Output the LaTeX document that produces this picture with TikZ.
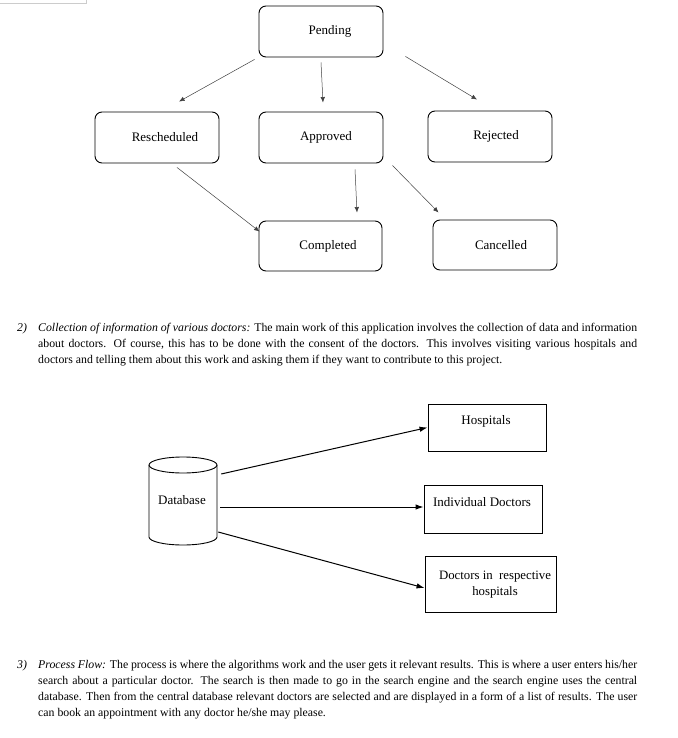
\documentclass[tikz,border=0pt]{standalone}
\usepackage{fontspec}
\setmainfont{Liberation Serif}
\usetikzlibrary{arrows.meta,calc}
\begin{document}
\begin{tikzpicture}[x=1pt,y=-1pt,
  stbox/.style={draw=black, line width=0.9pt, rounded corners=7pt, inner sep=0pt},
  sqbox/.style={draw=black, line width=0.9pt, inner sep=0pt},
  lbl/.style={inner sep=0pt, font=\fontsize{13}{15}\selectfont},
  flow/.style={draw=black!75, line width=0.5pt, -{Latex[length=5.5pt,width=4.5pt]}},
  dbarrow/.style={draw=black, line width=1pt, -{Latex[length=8pt,width=5.5pt]}},
  para/.style={anchor=base west, inner sep=0pt, font=\fontsize{11.8}{16}\selectfont}]
\useasboundingbox (0,0) rectangle (677,738);
\draw[gray!40, line width=0.6pt] (0,3) -- (86,3) -- (86,0);

% ---------- state diagram ----------
\node[stbox, minimum width=124pt, minimum height=51pt] (pend)  at (321,31.5) {};
\node[stbox, minimum width=124pt, minimum height=51pt] (resch) at (157,137.5) {};
\node[stbox, minimum width=124pt, minimum height=51pt] (appr)  at (321,137.5) {};
\node[stbox, minimum width=124pt, minimum height=51pt] (rej)   at (490,136.5) {};
\node[stbox, minimum width=123pt, minimum height=50pt] (comp)  at (320.5,246) {};
\node[stbox, minimum width=124pt, minimum height=50pt] (canc)  at (495,245) {};

\node[lbl] (pendT)  at ($(pend.center)+(9,0)$)  {Pending};
\node[lbl] (reschT) at ($(resch.center)+(8,0)$) {Rescheduled};
\node[lbl] (apprT)  at ($(appr.center)+(5,0)$)  {Approved};
\node[lbl] (rejT)   at ($(rej.center)+(6,0)$)   {Rejected};
\node[lbl] (compT)  at ($(comp.center)+(7.5,0)$) {Completed};
\node[lbl] (cancT)  at ($(canc.center)+(6,0)$)  {Cancelled};

\draw[flow] ($(pend.south west)+(-4,2)$) -- ($(resch.north)+(22,-10)$);
\draw[flow] ($(pend.south)+(0,5)$) -- ($(appr.north)+(2,-9)$);
\draw[flow] ($(pend.south east)+(22,-1)$) -- ($(rej.north)+(-13,-11)$);
\draw[flow] ($(resch.south)+(20,4)$) -- ($(comp.north west)+(1,11)$);
\draw[flow] ($(appr.south)+(34,6)$) -- ($(comp.north)+(36.5,-8)$);
\draw[flow] ($(appr.south east)+(9,2)$) -- ($(canc.north west)+(6,-7)$);

% ---------- paragraph 2 ----------
\node[para] (n2) at (17,331) {\itshape 2)};
\node[para] (p2a) at (38,331) {\makebox[599pt][s]{\textit{Collection of information of various doctors:} The main work of this application involves the collection of data and information}};
\node[para] (p2b) at (38,347) {\makebox[599pt][s]{about doctors. Of course, this has to be done with the consent of the doctors. This involves visiting various hospitals and}};
\node[para] (p2c) at (38,363) {doctors and telling them about this work and asking them if they want to contribute to this project.};

% ---------- database diagram ----------
\node[inner sep=0pt, minimum width=68pt, minimum height=88pt] (db) at (183,501) {};
\draw[line width=0.9pt] (149,465) -- (149,537) arc[start angle=180, end angle=360, x radius=34, y radius=-8] -- (217,465);
\draw[line width=0.9pt] (183,465) ellipse[x radius=34, y radius=8];
\node[lbl] (dbT) at (182,500) {Database};

\node[sqbox, minimum width=118pt, minimum height=47pt] (hosp) at (487,427.5) {};
\node[sqbox, minimum width=118pt, minimum height=48pt] (ind)  at (483,509) {};
\node[sqbox, minimum width=131pt, minimum height=56pt] (doc)  at (490.5,584) {};

\node[lbl] (hospT) at (486,421) {Hospitals};
\node[lbl] (indT)  at (482,502) {Individual Doctors};
\node[lbl, align=center, font=\fontsize{12.8}{15.5}\selectfont] (docT) at (495,584.5) {Doctors in\ \ respective\\hospitals};

\draw[dbarrow] ($(db.east)+(4,-27)$) -- (hosp.west);
\draw[dbarrow] ($(db.east)+(3,6)$) -- ($(ind.west)+(0,-2)$);
\draw[dbarrow] ($(db.east)+(1,31)$) -- ($(doc.west)+(0,4)$);

% ---------- paragraph 3 ----------
\node[para] (n3) at (17,668) {\itshape 3)};
\node[para] (p3a) at (38,668) {\makebox[599pt][s]{\textit{Process Flow:} The process is where the algorithms work and the user gets it relevant results. This is where a user enters his/her}};
\node[para] (p3b) at (38,684) {\makebox[599pt][s]{search about a particular doctor. The search is then made to go in the search engine and the search engine uses the central}};
\node[para] (p3c) at (38,700) {\makebox[599pt][s]{database. Then from the central database relevant doctors are selected and are displayed in a form of a list of results. The user}};
\node[para] (p3d) at (38,716) {can book an appointment with any doctor he/she may please.};
\end{tikzpicture}
\end{document}
